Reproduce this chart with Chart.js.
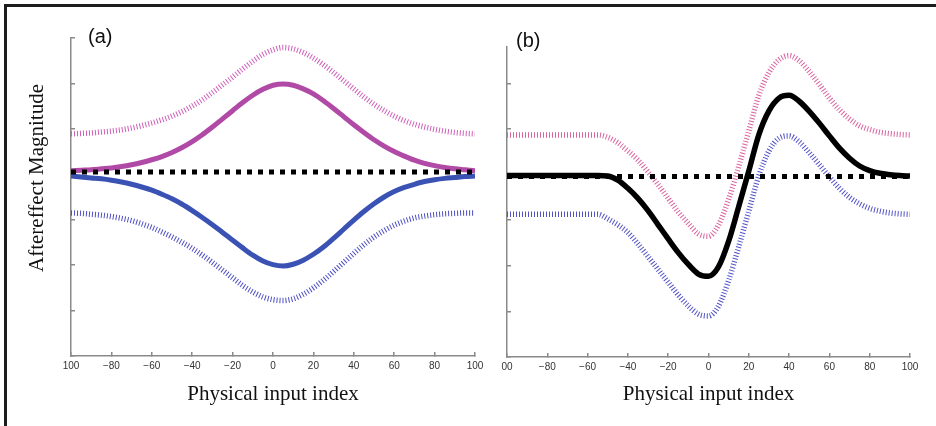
<!DOCTYPE html>
<html>
<head>
<meta charset="utf-8">
<title>Aftereffect magnitude</title>
<script src="https://cdn.jsdelivr.net/npm/chart.js@4/dist/chart.umd.min.js"></script>
<style>
  html, body { margin: 0; padding: 0; background: #fff; }
  body { width: 936px; height: 426px; position: relative; overflow: hidden; }
  .frame {
    position: absolute; left: 4px; top: 4px; width: 960px; height: 460px;
    border-top: 3px solid #1c1c1c; border-left: 3px solid #1c1c1c;
  }
  canvas { position: absolute; top: 0; }
  #panelA { left: 0; }
  #panelB { left: 480px; }
</style>
</head>
<body>
<div class="frame"></div>
<canvas id="panelA" width="500" height="426"></canvas>
<canvas id="panelB" width="456" height="426"></canvas>
<script>
// physical input index, sampled every 5 units
const inputIndex = [-100, -95, -90, -85, -80, -75, -70, -65, -60, -55, -50, -45, -40, -35, -30, -25, -20, -15, -10, -5,
  0, 5, 10, 15, 20, 25, 30, 35, 40, 45, 50, 55, 60, 65, 70, 75, 80, 85, 90, 95, 100];

// (a) symmetric aftereffects
const upA = [0.08, 0.09, 0.10, 0.12, 0.14, 0.17, 0.21, 0.26, 0.32, 0.39, 0.48, 0.59, 0.72, 0.87, 1.04, 1.22, 1.40, 1.58, 1.74, 1.87,
  1.96, 1.99, 1.96, 1.88, 1.77, 1.62, 1.45, 1.27, 1.09, 0.92, 0.76, 0.62, 0.50, 0.40, 0.31, 0.24, 0.19, 0.15, 0.12, 0.10, 0.08];
const downA = [-0.04, -0.06, -0.08, -0.10, -0.13, -0.17, -0.22, -0.28, -0.35, -0.44, -0.54, -0.66, -0.80, -0.95, -1.11, -1.28, -1.45, -1.62, -1.78, -1.91,
  -1.99, -2.02, -1.98, -1.89, -1.76, -1.60, -1.41, -1.21, -1.01, -0.82, -0.65, -0.50, -0.38, -0.29, -0.22, -0.16, -0.12, -0.09, -0.07, -0.05, -0.04];
const upBandA = [0.89, 0.90, 0.91, 0.93, 0.95, 0.98, 1.02, 1.07, 1.13, 1.20, 1.28, 1.38, 1.50, 1.64, 1.80, 1.97, 2.14, 2.32, 2.49, 2.64,
  2.74, 2.79, 2.76, 2.68, 2.56, 2.41, 2.24, 2.06, 1.88, 1.70, 1.54, 1.40, 1.28, 1.18, 1.10, 1.04, 0.99, 0.95, 0.92, 0.90, 0.89];
const downBandA = [-0.85, -0.86, -0.88, -0.90, -0.93, -0.97, -1.02, -1.09, -1.17, -1.27, -1.38, -1.50, -1.63, -1.78, -1.94, -2.11, -2.28, -2.45, -2.59, -2.70,
  -2.76, -2.78, -2.74, -2.64, -2.50, -2.33, -2.14, -1.94, -1.74, -1.55, -1.38, -1.24, -1.12, -1.03, -0.96, -0.92, -0.89, -0.87, -0.86, -0.85, -0.85];

// (b) asymmetric aftereffect with its band
const netB = [-0.02, -0.02, -0.02, -0.02, -0.02, -0.02, -0.02, -0.02, -0.02, -0.02, -0.03, -0.12, -0.30, -0.52, -0.79, -1.10, -1.41, -1.71, -1.97, -2.18,
  -2.23, -2.02, -1.46, -0.70, 0.08, 0.88, 1.40, 1.68, 1.74, 1.61, 1.39, 1.13, 0.85, 0.58, 0.36, 0.19, 0.09, 0.03, 0.00, -0.02, -0.03];
const upBandB = [0.87, 0.87, 0.87, 0.87, 0.87, 0.87, 0.87, 0.87, 0.87, 0.87, 0.82, 0.70, 0.52, 0.32, 0.06, -0.22, -0.52, -0.82, -1.07, -1.30,
  -1.35, -1.10, -0.54, 0.18, 0.96, 1.74, 2.24, 2.52, 2.61, 2.50, 2.26, 1.98, 1.68, 1.42, 1.22, 1.07, 0.99, 0.93, 0.90, 0.88, 0.87];
const downBandB = [-0.87, -0.87, -0.87, -0.87, -0.87, -0.87, -0.87, -0.87, -0.87, -0.87, -0.97, -1.10, -1.27, -1.52, -1.80, -2.08, -2.36, -2.64, -2.88, -3.06,
  -3.10, -2.88, -2.32, -1.58, -0.80, -0.02, 0.52, 0.80, 0.85, 0.72, 0.48, 0.22, -0.05, -0.30, -0.50, -0.64, -0.74, -0.80, -0.84, -0.86, -0.87];

// zero reference lines
const baseX = [-100, 100];
const baseA = [0.05, 0.05];
const baseB = [-0.04, -0.04];

const tickLabelsA = ['100', '\u221280', '\u221260', '\u221240', '\u221220', '0', '20', '40', '60', '80', '100'];
const tickLabelsB = ['00', '\u221280', '\u221260', '\u221240', '\u221220', '0', '20', '40', '60', '80', '100'];

Chart.defaults.font.family = '"Liberation Sans", Arial, sans-serif';
Chart.defaults.color = '#333';

const pts = (xs, ys) => xs.map((x, i) => ({ x: x, y: ys[i] }));

function curve(ys, color, width) {
  return { data: pts(inputIndex, ys), borderColor: color, borderWidth: width,
    pointRadius: 0, cubicInterpolationMode: 'monotone', fill: false };
}
function band(ys, color) {
  const d = curve(ys, color, 5.5);
  d.borderDash = [1, 2];
  return d;
}
function baseline(ys) {
  return { data: pts(baseX, ys), borderColor: '#000', borderWidth: 5, borderDash: [5, 6],
    pointRadius: 0, borderCapStyle: 'butt' };
}

// panel letter and the shared y title
const panelText = {
  id: 'panelText',
  afterDraw(chart, args, o) {
    const ctx = chart.ctx, area = chart.chartArea;
    ctx.save();
    ctx.fillStyle = '#111';
    ctx.textBaseline = 'alphabetic';
    ctx.font = '20px "Liberation Sans", Arial, sans-serif';
    ctx.fillText(o.label, area.left + o.dx, area.top + o.dy);
    if (o.yTitle) {
      ctx.font = '21px "Liberation Serif", "Times New Roman", serif';
      ctx.textAlign = 'center';
      ctx.translate(o.yTitleX, o.yTitleY);
      ctx.rotate(-Math.PI / 2);
      ctx.fillText(o.yTitle, 0, 0);
    }
    ctx.restore();
  }
};

function makeOptions(cfg) {
  return {
    responsive: false,
    animation: false,
    layout: { padding: { left: 0, top: cfg.top, right: cfg.right, bottom: 0 } },
    plugins: {
      legend: { display: false },
      tooltip: { enabled: false },
      panelText: cfg.text
    },
    scales: {
      x: {
        type: 'linear', min: -100, max: 100,
        afterFit: s => { s.height = cfg.xHeight; s.paddingLeft = 0; s.paddingRight = 0; },
        border: { color: '#8a8a8a', width: 1.5 },
        grid: { drawOnChartArea: false, tickLength: -4, color: '#8a8a8a', lineWidth: 1.5 },
        ticks: { stepSize: 20, padding: 8, maxRotation: 0, font: { size: 10 }, color: '#333',
          callback: (v, i) => cfg.tickLabels[i] },
        title: { display: true, text: 'Physical input index', color: '#111',
          font: { family: '"Liberation Serif", "Times New Roman", serif', size: 21 },
          padding: { top: 0, bottom: 19 } }
      },
      y: {
        min: -4, max: cfg.yMax,
        afterFit: s => { s.width = cfg.yWidth; s.paddingTop = 0; s.paddingBottom = 0; },
        border: { color: '#8a8a8a', width: 1.5 },
        grid: { drawOnChartArea: false, tickLength: -4, color: '#8a8a8a', lineWidth: 1.5 },
        ticks: { stepSize: 1, display: false, includeBounds: false }
      }
    }
  };
}

new Chart(document.getElementById('panelA'), {
  type: 'line',
  data: {
    datasets: [
      baseline(baseA),
      curve(upA, '#b04aa6', 5),
      curve(downA, '#3a52b4', 5),
      band(upBandA, '#cf5fb8'),
      band(downBandA, '#4e4ec4')
    ]
  },
  options: makeOptions({
    top: 38, right: 25, xHeight: 70, yWidth: 71, yMax: 3, tickLabels: tickLabelsA,
    text: { label: '(a)', dx: 17, dy: 5, yTitle: 'Aftereffect Magnitude', yTitleX: 43, yTitleY: 178 }
  }),
  plugins: [panelText]
});

new Chart(document.getElementById('panelB'), {
  type: 'line',
  data: {
    datasets: [
      curve(netB, '#000', 5.5),
      baseline(baseB),
      band(upBandB, '#d9639f'),
      band(downBandB, '#5252c6')
    ]
  },
  options: makeOptions({
    top: 47, right: 26, xHeight: 69, yWidth: 27, yMax: 2.8, tickLabels: tickLabelsB,
    text: { label: '(b)', dx: 9, dy: 0 }
  }),
  plugins: [panelText]
});
</script>
</body>
</html>
